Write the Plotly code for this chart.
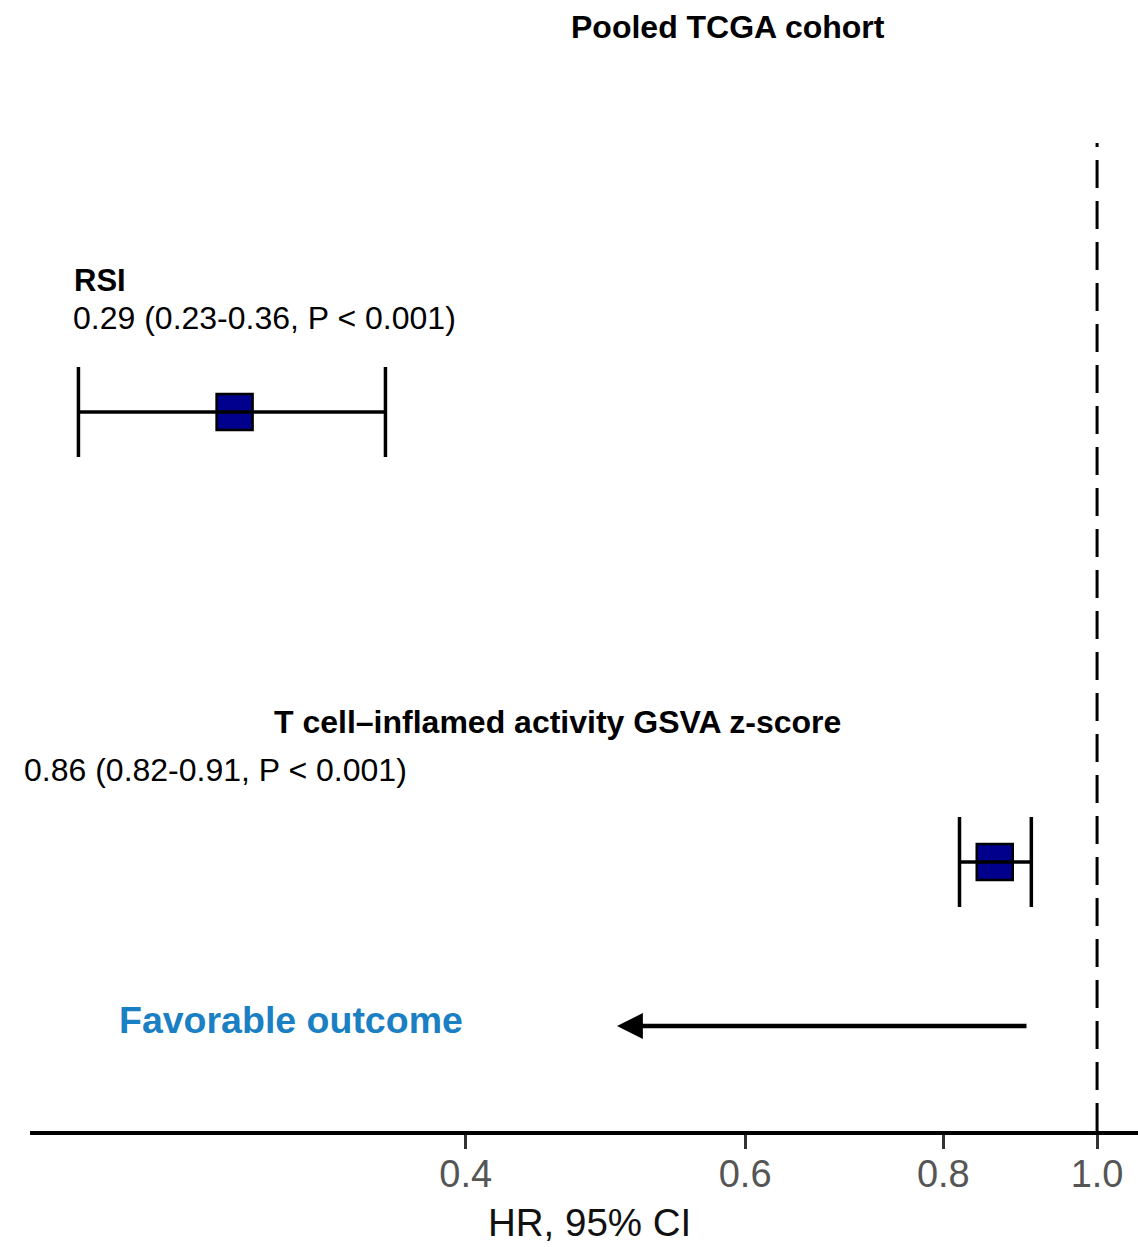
import plotly.graph_objects as go

# ---- data ----
variables = ["RSI", "T cell–inflamed activity GSVA z-score"]
hr = [0.286, 0.862]
ci_low = [0.228, 0.819]
ci_high = [0.356, 0.909]
stat_text = ["0.29 (0.23-0.36, P < 0.001)", "0.86 (0.82-0.91, P < 0.001)"]
tick_vals = [0.4, 0.6, 0.8, 1.0]
tick_text = ["0.4", "0.6", "0.8", "1.0"]
ref_hr = 1.0

# ---- layout constants ----
row_y = [719, 269]      # vertical positions (plot units = px)
cap_half = 45
FONT = "Liberation Sans, Arial, Helvetica, sans-serif"

fig = go.Figure()

# squares
fig.add_trace(go.Scatter(
    x=hr, y=row_y, mode="markers",
    marker=dict(symbol="square", size=36, color="#00008C",
                line=dict(color="black", width=2.5)),
    hoverinfo="skip", showlegend=False))

# CI lines
lx, ly = [], []
for lo, hi, y in zip(ci_low, ci_high, row_y):
    lx += [lo, hi, None]
    ly += [y, y, None]
    lx += [lo, lo, None, hi, hi, None]
    ly += [y - cap_half, y + cap_half, None, y - cap_half, y + cap_half, None]
fig.add_trace(go.Scatter(x=lx, y=ly, mode="lines",
                         line=dict(color="black", width=3.5),
                         hoverinfo="skip", showlegend=False))

# reference dashed line
fig.add_shape(type="line", x0=ref_hr, x1=ref_hr, y0=0, y1=988,
              xref="x", yref="y",
              line=dict(color="black", width=3, dash="28px,13px"))

L, R, T, B = 30, 0, 131, 116
W, H = 1138, 1247
pw = W - L - R

def px(xpix):
    return (xpix - L) / pw

def py(ypix):
    return (H - B - ypix) / 1000.0

ann = []
ann.append(dict(text="<b>Pooled TCGA cohort</b>", x=px(728), y=py(27),
                xref="paper", yref="paper", showarrow=False,
                xanchor="center", yanchor="middle",
                font=dict(size=32, color="black", family=FONT)))
# RSI
ann.append(dict(text="<b>%s</b>" % variables[0], x=px(72), y=py(280),
                xref="paper", yref="paper", showarrow=False,
                xanchor="left", yanchor="middle",
                font=dict(size=31, color="black", family=FONT)))
ann.append(dict(text=stat_text[0], x=px(71), y=py(318),
                xref="paper", yref="paper", showarrow=False,
                xanchor="left", yanchor="middle",
                font=dict(size=32, color="black", family=FONT)))
# T cell
ann.append(dict(text="<b>%s</b>" % variables[1], x=px(557), y=py(722),
                xref="paper", yref="paper", showarrow=False,
                xanchor="center", yanchor="middle",
                font=dict(size=32, color="black", family=FONT)))
ann.append(dict(text=stat_text[1], x=px(22), y=py(770),
                xref="paper", yref="paper", showarrow=False,
                xanchor="left", yanchor="middle",
                font=dict(size=32, color="black", family=FONT)))
# favorable
ann.append(dict(text="<b>Favorable outcome</b>", x=px(117), y=py(1020),
                xref="paper", yref="paper", showarrow=False,
                xanchor="left", yanchor="middle",
                font=dict(size=37.5, color="#1A7FC3", family=FONT)))
# arrow
ann.append(dict(text="", x=px(617), y=py(1026), xref="paper", yref="paper",
                showarrow=True, ax=1028 - 617, ay=0, axref="pixel", ayref="pixel",
                arrowhead=2, arrowsize=1.15, arrowwidth=4.5, arrowcolor="black",
                standoff=0, startstandoff=0))
# axis title
ann.append(dict(text="HR, 95% CI", x=px(589), y=py(1222),
                xref="paper", yref="paper", showarrow=False,
                xanchor="center", yanchor="middle",
                font=dict(size=38.5, color="#111111", family=FONT)))

fig.update_layout(
    width=W, height=H,
    margin=dict(l=L, r=R, t=T, b=B),
    plot_bgcolor="white", paper_bgcolor="white",
    annotations=ann,
    xaxis=dict(type="log", range=[-0.6726, 0.0258],
               tickvals=tick_vals, ticktext=tick_text,
               showgrid=False, zeroline=False,
               showline=True, linecolor="black", linewidth=4,
               ticks="outside", ticklen=14, tickwidth=3, tickcolor="#333",
               ticklabelstandoff=-8,
               tickfont=dict(size=38, color="#555555", family=FONT)),
    yaxis=dict(range=[0, 1000], visible=False, showgrid=False, zeroline=False),
)

fig.write_html("out.html")
